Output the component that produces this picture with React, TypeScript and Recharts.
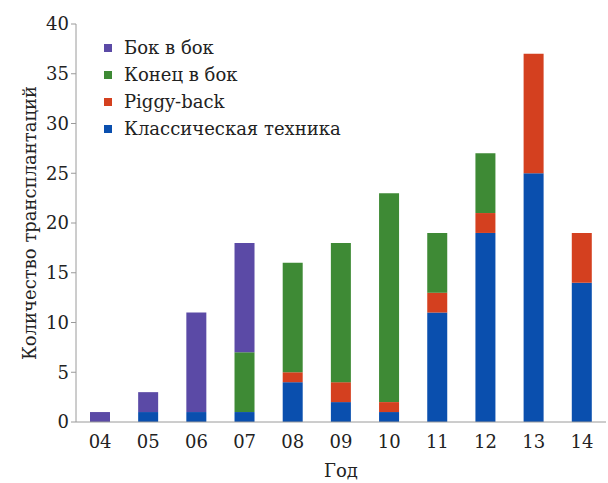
import { BarChart, Bar, XAxis, YAxis } from "recharts";

const years = ["04", "05", "06", "07", "08", "09", "10", "11", "12", "13", "14"];
const classic = [0, 1, 1, 1, 4, 2, 1, 11, 19, 25, 14];
const piggy = [0, 0, 0, 0, 1, 2, 1, 2, 2, 12, 5];
const endToSide = [0, 0, 0, 6, 11, 14, 21, 6, 6, 0, 0];
const sideToSide = [1, 2, 10, 11, 0, 0, 0, 0, 0, 0, 0];
const yTicks = [0, 5, 10, 15, 20, 25, 30, 35, 40];

// legend order top → bottom as in the figure
const series = [
  { key: "side", name: "Бок в бок", color: "#5b4aa6" },
  { key: "end", name: "Конец в бок", color: "#3e8a35" },
  { key: "piggy", name: "Piggy-back", color: "#d4401f" },
  { key: "classic", name: "Классическая техника", color: "#0a4fae" },
];

const data = years.map((y, i) => ({
  year: y,
  classic: classic[i],
  piggy: piggy[i],
  end: endToSide[i],
  side: sideToSide[i],
}));

// only serif face that actually resolves in the sandbox
const font = "DejaVu Serif";

function LegendBox() {
  return (
    <div style={{ position: "absolute", left: 104, top: 34, fontFamily: font, fontSize: 18, color: "#222", lineHeight: "27px" }}>
      {series.map((s) => (
        <div key={s.key} style={{ display: "flex", alignItems: "center" }}>
          <span style={{ width: 8, height: 8, background: s.color, marginRight: 12, display: "inline-block" }} />
          {s.name}
        </div>
      ))}
    </div>
  );
}

export default function App() {
  return (
    <div style={{ position: "absolute", left: 0, top: 0, width: 608, height: 483, background: "#fff" }}>
      <BarChart width={608} height={483} data={data} margin={{ top: 24, right: 2, bottom: 21, left: 0 }} barCategoryGap="29%">
        <XAxis
          dataKey="year"
          stroke="#9a9a9a"
          tick={{ fill: "#222", fontSize: 18, fontFamily: font }}
          tickLine={false}
          tickMargin={7}
          height={40}
          label={{ value: "Год", position: "insideBottom", offset: -15, fill: "#222", fontSize: 18, fontFamily: font }}
        />
        <YAxis
          domain={[0, 40]}
          ticks={yTicks}
          stroke="#9a9a9a"
          width={76}
          tickSize={5}
          tick={{ fill: "#222", fontSize: 18, fontFamily: font }}
          label={{ value: "Количество трансплантаций", angle: -90, position: "insideLeft", offset: 30, fill: "#222", fontSize: 18, fontFamily: font, style: { textAnchor: "middle" } }}
        />
        {series
          .slice()
          .reverse()
          .map((s) => (
            <Bar key={s.key} dataKey={s.key} name={s.name} stackId="a" fill={s.color} isAnimationActive={false} />
          ))}
      </BarChart>
      <LegendBox />
    </div>
  );
}
